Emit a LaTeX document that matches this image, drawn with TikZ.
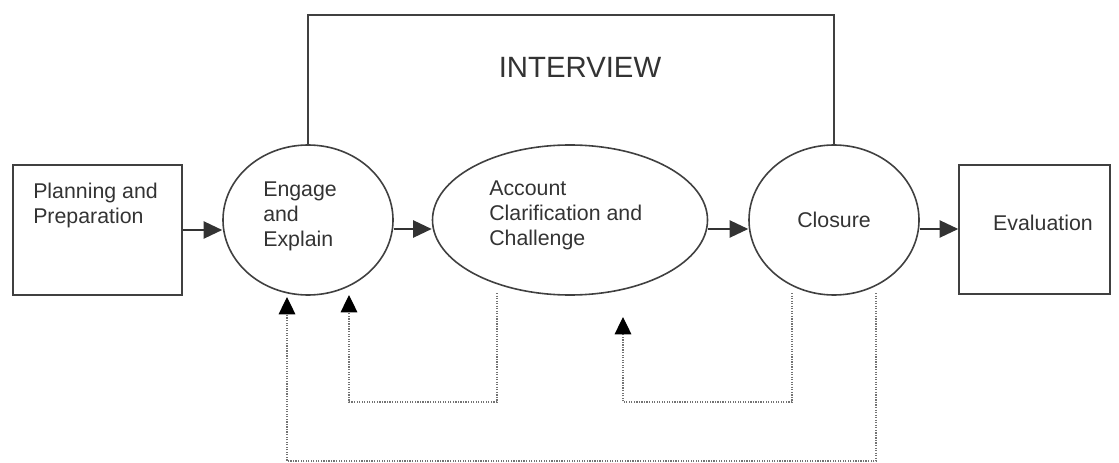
\documentclass[tikz,border=0pt]{standalone}
\usepackage{fontspec}
\setmainfont{Liberation Sans}
\usetikzlibrary{arrows.meta}
\usetikzlibrary{shapes.geometric}
\tikzset{
	boxstyle/.style={rectangle,draw=black!75,line width=1.2pt},
	stagestyle/.style={ellipse,draw=black!75,line width=1.2pt},
	textstyle/.style={align=left,inner sep=0pt,text=black!80,font=\fontsize{16}{18.75}\selectfont},
	flowstyle/.style={draw=black!80,line width=1.2pt,-{Triangle[length=14pt,width=13pt]}},
	backstyle/.style={draw=black!55,line width=0.9pt,densely dotted,-{Triangle[length=13pt,width=12.5pt,color=black]}}
}
\begin{document}
\begin{tikzpicture}[x=0.75pt,y=-0.75pt]
	\useasboundingbox (0,0) rectangle (1119,463);
	% stages
	\node[boxstyle,minimum width=126.75pt,minimum height=97.5pt] (plan) at (97.5,230) {};
	\node[stagestyle,minimum width=127.5pt,minimum height=112.5pt] (engage) at (308,220) {};
	\node[stagestyle,minimum width=206.25pt,minimum height=112.5pt] (account) at (570,220) {};
	\node[stagestyle,minimum width=127.5pt,minimum height=112.5pt,textstyle] (closure) at (834,220) {Closure};
	\node[boxstyle,minimum width=113.25pt,minimum height=96.75pt] (eval) at (1034.5,229.5) {};
	\node[textstyle,anchor=north west] (plantext) at (33,183) {Planning and\\Preparation};
	\node[textstyle,anchor=north west] (engagetext) at (263,182) {Engage\\and\\Explain};
	\node[textstyle,anchor=north west] (accounttext) at (489,181) {Account\\Clarification and\\Challenge};
	\node[textstyle] (evaltext) at (1043,223) {Evaluation};
	% interview frame
	\coordinate (top) at (570,15);
	\draw[black!75,line width=1.2pt] (engage.north) |- (top) -| (closure.north);
	\node[font=\fontsize{22}{26}\selectfont,text=black!80] (interview) at (580,67) {INTERVIEW};
	% main flow
	\draw[flowstyle] (plan.east) -- (plan.east -| engage.west);
	\draw[flowstyle] ([yshift=-6.75pt]engage.east) -- ([yshift=-6.75pt]account.west);
	\draw[flowstyle] ([yshift=-6.75pt]account.east) -- ([yshift=-6.75pt]closure.west);
	\draw[flowstyle] ([yshift=-6.75pt]closure.east) -- ([yshift=-6.75pt]closure.east -| eval.west);
	% feedback loops
	\coordinate (fromaccount) at (497,293);
	\coordinate (toengage) at (349,295);
	\coordinate (fromclosure) at (792,293);
	\coordinate (toaccount) at (623,317);
	\coordinate (fromend) at (876,293);
	\coordinate (tostart) at (287,297);
	\draw[backstyle] (fromaccount) -- ++(0,109) -| (toengage);
	\draw[backstyle] (fromclosure) -- ++(0,109) -| (toaccount);
	\draw[backstyle] (fromend) -- ++(0,168) -| (tostart);
\end{tikzpicture}
\end{document}
